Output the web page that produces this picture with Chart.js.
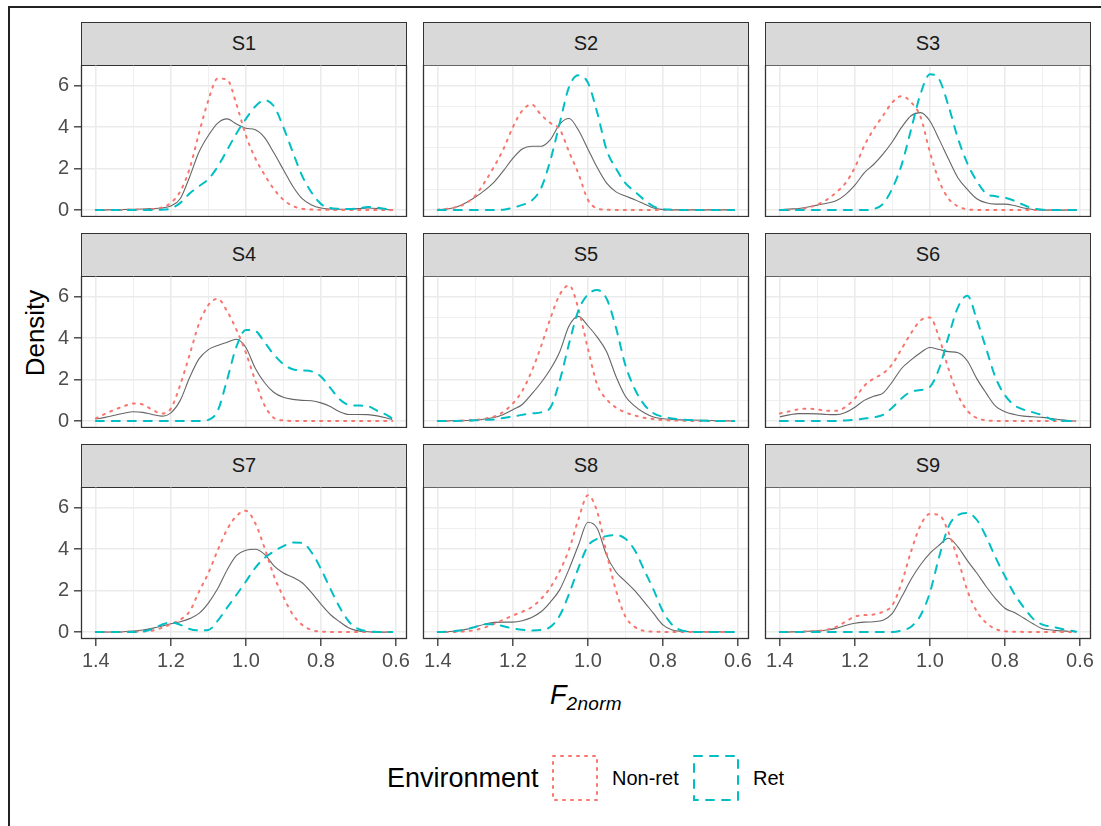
<!DOCTYPE html>
<html>
<head>
<meta charset="utf-8">
<title>F2norm density by speaker</title>
<script src="https://cdn.jsdelivr.net/npm/chart.js@4.4.1/dist/chart.umd.min.js"></script>
<style>
  body { margin: 0; background: #fff; }
  #page { position: relative; width: 1101px; height: 826px; overflow: hidden; font-family: "Liberation Sans", Arial, sans-serif; }
  #frame { position: absolute; left: 8px; top: 6px; width: 1200px; height: 900px; border-top: 2px solid #222; border-left: 2px solid #222; }
  .strip { position: absolute; box-sizing: border-box; background: #d9d9d9; border: 1.3px solid #333; color: #1a1a1a; font-size: 20px; text-align: center; }
  canvas { position: absolute; }
  #ytitle { position: absolute; left: 35px; top: 333px; transform: translate(-50%, -50%) rotate(-90deg); font-size: 26px; color: #000; white-space: nowrap; }
  #xtitle { position: absolute; left: 486px; width: 200px; top: 679px; height: 32px; line-height: 32px; text-align: center; font-size: 27px; font-style: italic; color: #000; }
  #xtitle sub { font-size: 19px; font-style: italic; vertical-align: -6px; letter-spacing: 0.3px; }
  .legtxt { position: absolute; height: 30px; line-height: 30px; white-space: nowrap; color: #000; }
  .key { position: absolute; top: 755px; }
</style>
</head>
<body>
<div id="page">
  <div id="frame"></div>
  <div id="ytitle">Density</div>
  <div id="xtitle">F<sub>2norm</sub></div>
  <div class="legtxt" style="left:387px; top:763px; font-size:27px;">Environment</div>
  <svg class="key" style="left:552px" width="46" height="46"><rect x="1" y="1" width="44" height="44" fill="none" stroke="#F8766D" stroke-width="2" stroke-linecap="round" stroke-dasharray="2 6"/></svg>
  <div class="legtxt" style="left:612px; top:763px; font-size:20px;">Non-ret</div>
  <svg class="key" style="left:693px" width="46" height="46"><rect x="1" y="1" width="44" height="44" fill="none" stroke="#00BFC4" stroke-width="2" stroke-linecap="round" stroke-dasharray="8 8"/></svg>
  <div class="legtxt" style="left:753px; top:763px; font-size:20px;">Ret</div>
</div>
<script>
// F2norm grid (axis is reversed: 1.4 on the left)
const xs = [1.4, 1.375, 1.35, 1.325, 1.3, 1.275, 1.25, 1.225, 1.2, 1.175, 1.15, 1.125, 1.1, 1.075, 1.05, 1.025, 1.0,
            0.975, 0.95, 0.925, 0.9, 0.875, 0.85, 0.825, 0.8, 0.775, 0.75, 0.725, 0.7, 0.675, 0.65, 0.625, 0.61];

const panelNames = ['S1', 'S2', 'S3', 'S4', 'S5', 'S6', 'S7', 'S8', 'S9'];
const xTicks = [1.4, 1.2, 1.0, 0.8, 0.6];
const yTicks = [0, 2, 4, 6];

// Non-ret (red, dotted)
const nonRetS1 = [0, 0, 0, 0.01, 0.02, 0.03, 0.05, 0.12, 0.35, 0.9, 2.0, 3.7, 5.3, 6.35, 6.3, 5.1, 3.6, 2.5, 1.7, 1.0, 0.5, 0.2, 0.07, 0.03, 0.02, 0.01, 0.01, 0.01, 0.01, 0.01, 0.01, 0.01, 0];
const nonRetS2 = [0.02, 0.06, 0.15, 0.33, 0.7, 1.35, 2.1, 2.95, 4.0, 4.8, 5.1, 4.6, 4.2, 3.9, 2.8, 1.75, 0.5, 0.08, 0.02, 0.01, 0.01, 0.01, 0.01, 0.01, 0.01, 0.01, 0.01, 0.01, 0.01, 0.01, 0.01, 0.01, 0];
const nonRetS3 = [0, 0.01, 0.03, 0.12, 0.27, 0.5, 0.85, 1.3, 2.05, 3.1, 3.9, 4.55, 5.2, 5.5, 5.2, 4.5, 2.8, 1.4, 0.55, 0.18, 0.04, 0.01, 0.01, 0.01, 0.01, 0.01, 0.01, 0.01, 0.01, 0.01, 0.01, 0.01, 0];
const nonRetS4 = [0.13, 0.35, 0.55, 0.72, 0.85, 0.8, 0.55, 0.37, 0.6, 1.75, 3.2, 4.7, 5.6, 5.9, 5.3, 4.4, 3.3, 1.95, 0.75, 0.15, 0.03, 0.01, 0.01, 0.01, 0.01, 0.01, 0.01, 0.01, 0.01, 0.01, 0.01, 0.01, 0];
const nonRetS5 = [0, 0, 0.01, 0.03, 0.05, 0.12, 0.22, 0.45, 0.85, 1.45, 2.4, 3.6, 4.95, 6.1, 6.55, 5.4, 3.5, 1.75, 1.05, 0.65, 0.42, 0.27, 0.16, 0.1, 0.05, 0.03, 0.02, 0.01, 0.01, 0.01, 0.01, 0.01, 0];
const nonRetS6 = [0.37, 0.47, 0.57, 0.6, 0.56, 0.5, 0.5, 0.68, 1.1, 1.7, 2.05, 2.3, 2.75, 3.5, 4.25, 4.85, 5.0, 4.0, 2.5, 1.25, 0.5, 0.15, 0.04, 0.01, 0.01, 0.01, 0.01, 0.01, 0.01, 0.01, 0.01, 0.01, 0];
const nonRetS7 = [0, 0, 0, 0.01, 0.02, 0.03, 0.07, 0.2, 0.38, 0.6, 1.0, 1.95, 2.85, 3.95, 4.95, 5.6, 5.85, 5.25, 4.05, 2.7, 1.7, 0.85, 0.35, 0.1, 0.03, 0.01, 0.01, 0.01, 0.01, 0.01, 0.01, 0.01, 0];
const nonRetS8 = [0, 0, 0.01, 0.04, 0.1, 0.22, 0.4, 0.6, 0.8, 0.98, 1.2, 1.6, 2.15, 2.95, 4.0, 5.45, 6.6, 5.8, 3.8, 2.0, 0.75, 0.25, 0.06, 0.02, 0.01, 0.01, 0.01, 0.01, 0.01, 0.01, 0.01, 0.01, 0];
const nonRetS9 = [0, 0, 0.01, 0.03, 0.05, 0.12, 0.25, 0.5, 0.75, 0.82, 0.85, 0.98, 1.3, 2.4, 3.9, 5.15, 5.7, 5.65, 4.8, 3.5, 2.0, 1.0, 0.45, 0.15, 0.04, 0.02, 0.01, 0.01, 0.01, 0.01, 0.01, 0.01, 0];

// Ret (teal, dashed)
const retS1 = [0, 0, 0, 0, 0, 0, 0, 0.02, 0.08, 0.35, 0.8, 1.15, 1.5, 2.1, 2.9, 3.7, 4.4, 5.0, 5.3, 5.0, 4.0, 2.8, 1.65, 0.85, 0.3, 0.1, 0.06, 0.05, 0.08, 0.15, 0.12, 0.05, 0.02];
const retS2 = [0, 0, 0, 0, 0, 0, 0, 0.02, 0.12, 0.25, 0.45, 1.05, 2.4, 4.2, 5.95, 6.5, 6.15, 4.7, 2.9, 2.0, 1.3, 0.9, 0.5, 0.18, 0.05, 0.02, 0.01, 0.01, 0.01, 0.01, 0.01, 0.01, 0];
const retS3 = [0, 0, 0, 0, 0, 0, 0, 0, 0, 0, 0.05, 0.3, 1.05, 2.2, 3.9, 5.6, 6.55, 6.3, 5.0, 3.45, 2.25, 1.4, 0.8, 0.67, 0.6, 0.45, 0.25, 0.08, 0.02, 0.01, 0.01, 0.01, 0];
const retS4 = [0, 0, 0, 0, 0, 0, 0, 0, 0, 0, 0, 0, 0.06, 0.5, 2.0, 3.6, 4.4, 4.35, 3.8, 3.2, 2.75, 2.5, 2.45, 2.4, 2.15, 1.6, 1.05, 0.78, 0.75, 0.72, 0.5, 0.3, 0.13];
const retS5 = [0, 0, 0.01, 0.02, 0.04, 0.06, 0.08, 0.15, 0.22, 0.3, 0.37, 0.42, 0.65, 1.95, 3.75, 5.35, 6.1, 6.32, 5.9, 4.5, 2.7, 1.55, 0.8, 0.38, 0.21, 0.13, 0.08, 0.05, 0.03, 0.01, 0.01, 0.01, 0];
const retS6 = [0, 0, 0, 0, 0, 0, 0, 0.03, 0.07, 0.12, 0.18, 0.3, 0.65, 1.1, 1.42, 1.5, 1.65, 2.55, 4.1, 5.5, 6.05, 4.9, 3.5, 2.1, 1.25, 0.77, 0.55, 0.42, 0.28, 0.08, 0.02, 0, 0];
const retS7 = [0, 0, 0, 0, 0, 0.03, 0.15, 0.35, 0.47, 0.35, 0.15, 0.08, 0.1, 0.55, 1.18, 1.8, 2.44, 3.1, 3.58, 3.9, 4.15, 4.32, 4.3, 3.85, 3.05, 2.1, 1.2, 0.5, 0.15, 0.04, 0.01, 0, 0];
const retS8 = [0, 0.02, 0.06, 0.13, 0.25, 0.38, 0.38, 0.28, 0.18, 0.11, 0.08, 0.1, 0.25, 0.8, 1.85, 3.1, 4.15, 4.5, 4.63, 4.68, 4.5, 3.95, 3.0, 2.05, 1.0, 0.35, 0.08, 0.02, 0, 0, 0, 0, 0];
const retS9 = [0, 0, 0, 0, 0, 0, 0, 0, 0, 0, 0, 0, 0, 0.08, 0.26, 0.8, 1.9, 3.65, 5.1, 5.65, 5.74, 5.42, 4.6, 3.6, 2.7, 1.85, 1.2, 0.65, 0.36, 0.26, 0.16, 0.07, 0.02];

// Both environments pooled (grey, solid)
const allS1 = [0, 0.01, 0.02, 0.03, 0.04, 0.05, 0.07, 0.1, 0.2, 0.55, 1.6, 2.8, 3.6, 4.2, 4.4, 4.15, 3.95, 3.88, 3.5, 2.75, 1.95, 1.15, 0.55, 0.25, 0.1, 0.05, 0.04, 0.05, 0.07, 0.1, 0.08, 0.03, 0.01];
const allS2 = [0.02, 0.06, 0.15, 0.35, 0.63, 0.95, 1.35, 1.9, 2.5, 2.95, 3.08, 3.08, 3.4, 4.15, 4.42, 3.85, 2.95, 2.05, 1.3, 0.88, 0.68, 0.5, 0.3, 0.1, 0.03, 0.01, 0.01, 0.01, 0.01, 0.01, 0.01, 0.01, 0];
const allS3 = [0.02, 0.05, 0.08, 0.15, 0.24, 0.33, 0.45, 0.75, 1.2, 1.8, 2.2, 2.7, 3.3, 4.0, 4.55, 4.7, 4.3, 3.4, 2.45, 1.55, 1.0, 0.55, 0.35, 0.29, 0.29, 0.22, 0.1, 0.03, 0.01, 0, 0, 0, 0];
const allS4 = [0.1, 0.18, 0.28, 0.38, 0.45, 0.42, 0.32, 0.24, 0.4, 1.0, 2.1, 3.0, 3.45, 3.65, 3.8, 3.95, 3.55, 2.55, 1.85, 1.38, 1.15, 1.05, 1.0, 0.98, 0.88, 0.7, 0.45, 0.32, 0.32, 0.31, 0.25, 0.15, 0.08];
const allS5 = [0, 0.01, 0.02, 0.03, 0.05, 0.1, 0.17, 0.32, 0.55, 0.8, 1.3, 1.85, 2.5, 3.35, 4.6, 5.05, 4.6, 4.05, 3.35, 2.15, 1.2, 0.72, 0.4, 0.2, 0.11, 0.08, 0.06, 0.05, 0.04, 0.03, 0.02, 0.01, 0];
const allS6 = [0.21, 0.3, 0.36, 0.36, 0.35, 0.32, 0.31, 0.42, 0.67, 1.0, 1.2, 1.35, 1.9, 2.55, 2.95, 3.3, 3.55, 3.45, 3.35, 3.3, 2.9, 2.05, 1.35, 0.72, 0.45, 0.32, 0.24, 0.21, 0.18, 0.12, 0.06, 0.02, 0];
const allS7 = [0, 0, 0.01, 0.02, 0.05, 0.1, 0.18, 0.28, 0.4, 0.5, 0.65, 0.9, 1.4, 2.1, 3.0, 3.7, 3.95, 4.0, 3.75, 3.2, 2.85, 2.65, 2.38, 1.9, 1.35, 0.85, 0.5, 0.2, 0.06, 0.02, 0, 0, 0];
const allS8 = [0, 0.02, 0.05, 0.13, 0.25, 0.38, 0.47, 0.48, 0.48, 0.55, 0.7, 0.98, 1.45, 2.05, 3.05, 4.2, 5.3, 5.0, 3.7, 2.9, 2.45, 2.0, 1.46, 0.9, 0.35, 0.1, 0.04, 0.02, 0.01, 0.01, 0.01, 0.01, 0];
const allS9 = [0, 0.01, 0.02, 0.04, 0.06, 0.1, 0.18, 0.32, 0.43, 0.48, 0.5, 0.57, 0.9, 1.7, 2.55, 3.25, 3.8, 4.2, 4.53, 4.1, 3.45, 2.85, 2.2, 1.62, 1.15, 0.95, 0.68, 0.4, 0.16, 0.1, 0.06, 0.03, 0.02];

const nonRet = [nonRetS1, nonRetS2, nonRetS3, nonRetS4, nonRetS5, nonRetS6, nonRetS7, nonRetS8, nonRetS9];
const ret = [retS1, retS2, retS3, retS4, retS5, retS6, retS7, retS8, retS9];
const pooled = [allS1, allS2, allS3, allS4, allS5, allS6, allS7, allS8, allS9];

// Layout of the facet grid
const COL_LEFT = [81, 423, 765];
const ROW_TOP = [22, 233, 444];
const PANEL_W = 326, STRIP_H = 43, PLOT_H = 152;
const PAD = 12, Y_AXIS_W = 44, X_AXIS_H = 40;

const FONT = '"Liberation Sans", Arial, sans-serif';
Chart.defaults.font.family = FONT;

const isMajorX = v => xTicks.some(t => Math.abs(t - v) < 1e-6);
const isMajorY = v => yTicks.includes(v);

// ggplot-like panel border on top of everything
const panelBorder = {
    id: 'panelBorder',
    afterDraw(chart) {
        const a = chart.chartArea;
        const ctx = chart.ctx;
        ctx.save();
        ctx.strokeStyle = '#333333';
        ctx.lineWidth = 1.3;
        ctx.strokeRect(a.left + 0.5, a.top, a.right - a.left - 1, a.bottom - a.top - 0.5);
        ctx.restore();
    }
};

function toPoints(ys) {
    return xs.map((x, i) => ({ x: x, y: ys[i] }));
}

function gridOpts(isMajor, showTicks) {
    return {
        color: '#EBEBEB',
        lineWidth: ctx => (ctx.tick && isMajor(ctx.tick.value)) ? 1.6 : 0.8,
        drawTicks: showTicks,
        tickLength: 7,
        tickWidth: 1.3,
        tickColor: ctx => (ctx.tick && isMajor(ctx.tick.value)) ? '#333333' : 'rgba(0,0,0,0)'
    };
}

const page = document.getElementById('page');

panelNames.forEach((name, i) => {
    const col = i % 3;
    const row = Math.floor(i / 3);
    const plotLeft = COL_LEFT[col];
    const plotTop = ROW_TOP[row] + STRIP_H;
    const firstCol = col === 0;
    const lastRow = row === 2;

    const strip = document.createElement('div');
    strip.className = 'strip';
    strip.style.left = plotLeft + 'px';
    strip.style.top = ROW_TOP[row] + 'px';
    strip.style.width = PANEL_W + 'px';
    strip.style.height = (STRIP_H + 1) + 'px';
    strip.style.lineHeight = (STRIP_H - 2) + 'px';
    strip.textContent = name;
    page.appendChild(strip);

    const leftSpace = PAD + (firstCol ? Y_AXIS_W : 0);
    const canvas = document.createElement('canvas');
    canvas.width = leftSpace + PANEL_W + PAD;
    canvas.height = PLOT_H + (lastRow ? X_AXIS_H : 0);
    canvas.style.left = (plotLeft - leftSpace) + 'px';
    canvas.style.top = plotTop + 'px';
    page.appendChild(canvas);

    new Chart(canvas, {
        type: 'line',
        data: {
            datasets: [
                {
                    label: 'Ret',
                    data: toPoints(ret[i]),
                    borderColor: '#00BFC4',
                    borderWidth: 2,
                    borderDash: [8, 8],
                    borderCapStyle: 'round',
                    cubicInterpolationMode: 'monotone',
                    pointRadius: 0,
                    fill: false
                },
                {
                    label: 'Non-ret',
                    data: toPoints(nonRet[i]),
                    borderColor: '#F8766D',
                    borderWidth: 2,
                    borderDash: [2, 6],
                    borderCapStyle: 'round',
                    cubicInterpolationMode: 'monotone',
                    pointRadius: 0,
                    fill: false
                },
                {
                    label: 'All',
                    data: toPoints(pooled[i]),
                    borderColor: '#666666',
                    borderWidth: 1.1,
                    cubicInterpolationMode: 'monotone',
                    pointRadius: 0,
                    fill: false
                }
            ]
        },
        options: {
            responsive: false,
            animation: false,
            devicePixelRatio: 1,
            events: [],
            layout: { autoPadding: false, padding: { left: PAD, right: PAD, top: 0, bottom: 0 } },
            plugins: { legend: { display: false }, tooltip: { enabled: false } },
            scales: {
                x: {
                    type: 'linear',
                    reverse: true,
                    min: 0.5705,
                    max: 1.4395,
                    border: { display: false },
                    grid: gridOpts(isMajorX, lastRow),
                    ticks: {
                        display: lastRow,
                        stepSize: 0.1,
                        includeBounds: false,
                        autoSkip: false,
                        maxRotation: 0,
                        padding: 3,
                        color: '#4D4D4D',
                        font: { size: 20 },
                        callback: v => isMajorX(v) ? Number(v).toFixed(1) : ''
                    },
                    afterFit: s => { s.height = lastRow ? X_AXIS_H : 0; s.paddingLeft = 0; s.paddingRight = 0; }
                },
                y: {
                    type: 'linear',
                    min: -0.333,
                    max: 7.0,
                    border: { display: false },
                    grid: gridOpts(isMajorY, firstCol),
                    ticks: {
                        display: firstCol,
                        stepSize: 1,
                        includeBounds: false,
                        padding: 5,
                        color: '#4D4D4D',
                        font: { size: 20 },
                        callback: v => isMajorY(v) ? String(v) : ''
                    },
                    afterFit: s => { s.width = firstCol ? Y_AXIS_W : 0; s.paddingTop = 0; s.paddingBottom = 0; }
                }
            }
        },
        plugins: [panelBorder]
    });
});
</script>
</body>
</html>
